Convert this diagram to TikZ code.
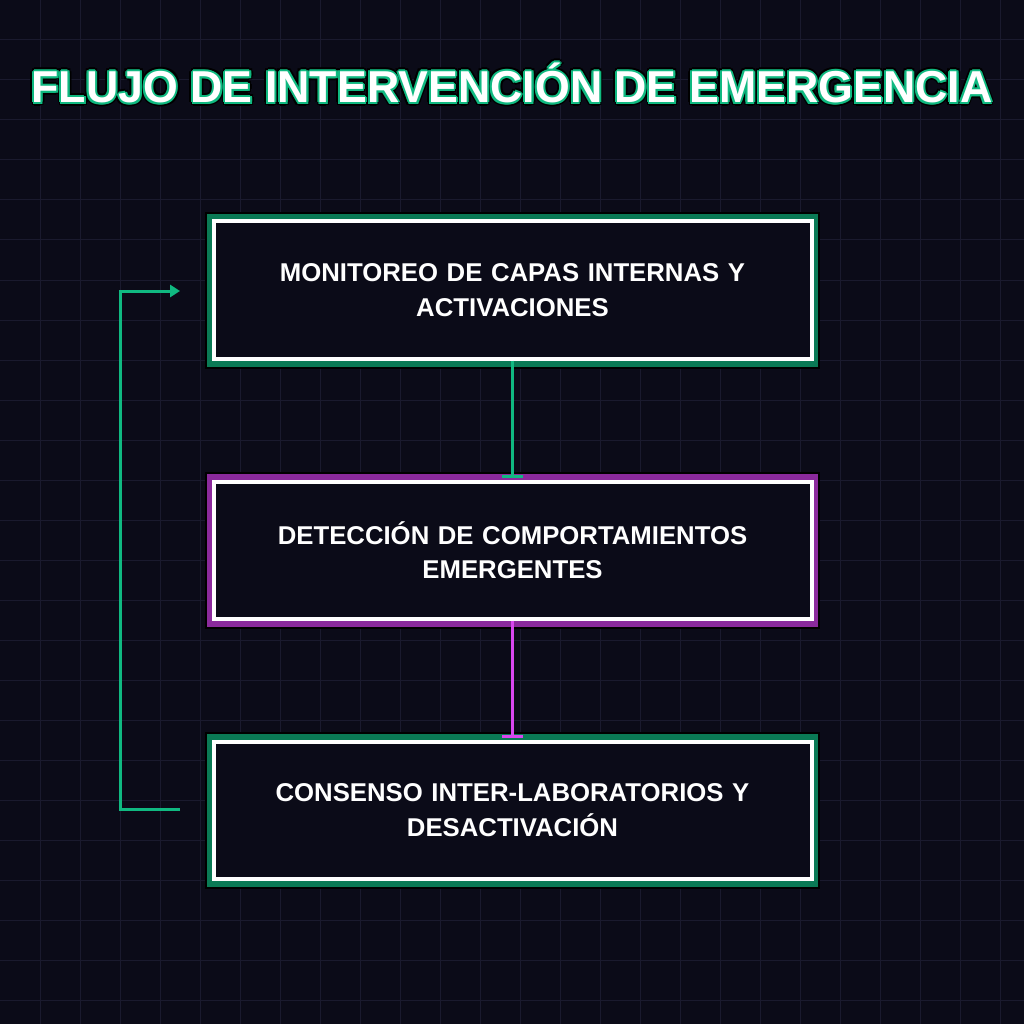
\documentclass[tikz,border=0pt]{standalone}
\usepackage{fontspec}
\setmainfont{Liberation Sans}
\usetikzlibrary{arrows.meta}
\definecolor{bg}{HTML}{0B0B18}
\definecolor{gridc}{HTML}{1A1A2E}
\definecolor{grn}{HTML}{10B981}
\definecolor{dgrn}{HTML}{0A7A55}
\definecolor{mag}{HTML}{D946EF}
\definecolor{dmag}{HTML}{8B2A9C}
\newlength{\px}\setlength{\px}{0.025cm}
\tikzset{
  box/.style={minimum width=598\px, minimum height=137\px, fill=bg, draw=white, line width=4\px,
     font=\bfseries\fontsize{18.3}{24.5}\selectfont, text=white, align=center, text width=580\px},
  conn/.style={line width=3\px, -{Bar[width=15.6pt]}},
  ttl/.style={font=\bfseries\fontsize{31.8}{36}\selectfont},
}
\begin{document}
\begin{tikzpicture}[x=0.025cm,y=-0.025cm]
\fill[bg] (0,0) rectangle (1024,1024);
\useasboundingbox (0,0) rectangle (1024,1024);
\foreach \i in {40,80,...,1000}{
  \draw[gridc, line width=1\px] (\i,0) -- (\i,1024);
  \draw[gridc, line width=1\px] (0,\i) -- (1024,\i);
}
% title
\foreach \dx/\dy in {-3/0,3/0,0/-3,0/3,-2/-2,2/2,-2/2,2/-2}{
  \node[ttl, text=black] at (512+\dx*1.3,83+\dy*1.3) {FLUJO DE INTERVENCIÓN DE EMERGENCIA};
}
\foreach \dx/\dy in {-2/0,2/0,0/-2,0/2,-1.5/-1.5,1.5/1.5,-1.5/1.5,1.5/-1.5}{
  \node[ttl, text=grn] at (512+\dx,83+\dy) {FLUJO DE INTERVENCIÓN DE EMERGENCIA};
}
\node[ttl, text=white] (title) at (512,83) {FLUJO DE INTERVENCIÓN DE EMERGENCIA};
% glows
\fill[black] (205,212) rectangle (820,369);
\fill[dgrn] (207,214) rectangle (818,367);
\fill[black] (205,472) rectangle (820,629);
\fill[dmag] (207,474) rectangle (818,627);
\fill[black] (205,732) rectangle (820,889);
\fill[dgrn] (207,734) rectangle (818,887);
\node[box] (a) at (512.5,290) {\raisebox{2pt}{\parbox{580\px}{\centering MONITOREO DE CAPAS INTERNAS Y\\ACTIVACIONES}}};
\node[box] (b) at (512.5,550) {\raisebox{2pt}{\parbox{580\px}{\centering DETECCIÓN DE COMPORTAMIENTOS\\EMERGENTES}}};
\node[box] (c) at (512.5,810) {\raisebox{2pt}{\parbox{580\px}{\centering CONSENSO INTER-LABORATORIOS Y\\DESACTIVACIÓN}}};
\draw[conn, grn] (a.south) -- ([yshift=1.4pt]b.north);
\draw[conn, mag] (b.south) -- ([yshift=1.4pt]c.north);
\coordinate (l1) at (180,809);
\coordinate (l2) at (180,291);
\draw[grn, line width=3\px, -{Triangle[width=8.5pt,length=7pt]}] (l1) -- (120,809) -- (120,291) -- (l2);
\end{tikzpicture}
\end{document}
